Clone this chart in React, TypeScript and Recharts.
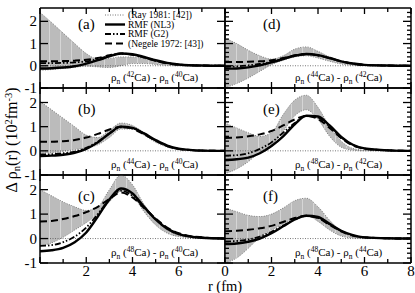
import { ComposedChart, Area, Line, XAxis, YAxis, ReferenceLine } from "recharts"

// radius grid (fm), shared by every panel
const R = [0, 0.5, 1, 1.5, 2, 2.5, 3, 3.5, 4, 4.5, 5, 5.5, 6, 7, 8]

// (a) 42Ca - 40Ca
const A_LO = [-0.2, -0.17, -0.12, -0.07, -0.02, -0.05, -0.08, 0, 0.1, 0.1, 0.06, 0.02, 0, 0, 0]
const A_HI = [2.4, 1.95, 1.47, 1.0, 0.55, 0.3, 0.33, 0.4, 0.4, 0.32, 0.2, 0.1, 0.04, 0, 0]
const A_NL3 = [-0.12, -0.11, -0.08, -0.02, 0.1, 0.25, 0.42, 0.55, 0.52, 0.4, 0.25, 0.13, 0.06, 0.01, 0]
const A_G2 = [0.12, 0.12, 0.13, 0.15, 0.2, 0.3, 0.45, 0.55, 0.5, 0.38, 0.23, 0.12, 0.05, 0.01, 0]
const A_NEG = [0.2, 0.2, 0.21, 0.23, 0.27, 0.35, 0.47, 0.55, 0.5, 0.37, 0.22, 0.11, 0.05, 0.01, 0]

// (b) 44Ca - 40Ca
const B_LO = [-0.1, -0.08, -0.02, 0.05, 0.12, 0.25, 0.55, 0.9, 0.9, 0.65, 0.35, 0.15, 0.05, 0, 0]
const B_HI = [2.05, 1.7, 1.35, 1.0, 0.65, 0.55, 0.85, 1.15, 1.05, 0.75, 0.45, 0.2, 0.08, 0.01, 0]
const B_NL3 = [-0.22, -0.2, -0.16, -0.08, 0.08, 0.35, 0.72, 1.0, 0.95, 0.72, 0.45, 0.22, 0.09, 0.01, 0]
const B_G2 = [-0.15, -0.14, -0.1, -0.03, 0.12, 0.38, 0.72, 0.97, 0.93, 0.7, 0.43, 0.21, 0.08, 0.01, 0]
const B_NEG = [0.38, 0.38, 0.4, 0.45, 0.55, 0.7, 0.88, 1.0, 0.92, 0.68, 0.42, 0.2, 0.08, 0.01, 0]

// (c) 48Ca - 40Ca
const C_LO = [-0.3, -0.18, 0.05, 0.35, 0.65, 1.0, 1.5, 1.95, 1.75, 1.1, 0.55, 0.22, 0.08, 0, 0]
const C_HI = [2.0, 1.75, 1.5, 1.3, 1.15, 1.3, 2.0, 2.6, 2.2, 1.4, 0.8, 0.35, 0.15, 0.02, 0]
const C_NL3 = [-0.52, -0.48, -0.38, -0.15, 0.25, 0.9, 1.6, 2.05, 1.85, 1.3, 0.78, 0.4, 0.18, 0.03, 0]
const C_G2 = [-0.3, -0.27, -0.15, 0.08, 0.45, 1.0, 1.6, 1.95, 1.75, 1.28, 0.8, 0.42, 0.2, 0.04, 0]
const C_NEG = [0.7, 0.72, 0.8, 0.92, 1.08, 1.3, 1.62, 1.88, 1.68, 1.25, 0.82, 0.45, 0.22, 0.05, 0]

// (d) 44Ca - 42Ca
const D_LO = [-1.0, -0.8, -0.55, -0.25, 0.05, 0.25, 0.4, 0.45, 0.35, 0.2, 0.08, 0.02, 0, 0, 0]
const D_HI = [1.25, 1.0, 0.7, 0.45, 0.3, 0.45, 0.75, 0.85, 0.65, 0.4, 0.2, 0.08, 0.03, 0, 0]
const D_NL3 = [-0.13, -0.12, -0.07, 0.02, 0.15, 0.3, 0.45, 0.53, 0.48, 0.35, 0.2, 0.1, 0.04, 0.01, 0]
const D_G2 = [-0.05, -0.03, 0.02, 0.08, 0.18, 0.32, 0.46, 0.52, 0.47, 0.34, 0.2, 0.1, 0.04, 0.01, 0]
const D_NEG = [0.17, 0.17, 0.18, 0.2, 0.25, 0.35, 0.47, 0.53, 0.47, 0.34, 0.2, 0.1, 0.04, 0.01, 0]

// (e) 48Ca - 42Ca
const E_LO = [-0.95, -0.75, -0.45, -0.05, 0.25, 0.8, 1.45, 1.7, 1.3, 0.6, 0.15, 0.03, 0, 0, 0]
const E_HI = [1.15, 0.95, 0.75, 0.6, 0.75, 1.5, 2.1, 2.3, 1.8, 1.0, 0.4, 0.1, 0.03, 0, 0]
const E_NL3 = [-0.38, -0.35, -0.28, -0.1, 0.2, 0.6, 1.1, 1.45, 1.42, 1.05, 0.58, 0.25, 0.1, 0.02, 0]
const E_G2 = [-0.2, -0.18, -0.1, 0.08, 0.35, 0.75, 1.15, 1.45, 1.38, 1.0, 0.55, 0.24, 0.09, 0.02, 0]
const E_NEG = [0.53, 0.55, 0.6, 0.68, 0.82, 1.05, 1.3, 1.45, 1.32, 0.95, 0.52, 0.22, 0.09, 0.02, 0]

// (f) 48Ca - 44Ca
const F_LO = [-1.0, -0.8, -0.4, 0.05, 0.35, 0.6, 0.85, 0.95, 0.7, 0.35, 0.1, 0.02, 0, 0, 0]
const F_HI = [1.25, 1.1, 0.95, 0.9, 1.0, 1.25, 1.55, 1.65, 1.3, 0.75, 0.3, 0.08, 0.02, 0, 0]
const F_NL3 = [-0.22, -0.2, -0.13, 0.0, 0.22, 0.5, 0.78, 0.93, 0.88, 0.6, 0.32, 0.14, 0.05, 0.01, 0]
const F_G2 = [-0.12, -0.1, -0.04, 0.08, 0.28, 0.53, 0.78, 0.92, 0.85, 0.58, 0.3, 0.13, 0.05, 0.01, 0]
const F_NEG = [0.3, 0.32, 0.36, 0.42, 0.52, 0.68, 0.84, 0.93, 0.84, 0.56, 0.29, 0.12, 0.05, 0.01, 0]

const X_TICKS = [0, 1, 2, 3, 4, 5, 6, 7, 8]
const Y_TICKS = [-1, 0, 1, 2]
const Y_TICKS_FINE = [-1, -0.8, -0.6, -0.4, -0.2, 0, 0.2, 0.4, 0.6, 0.8, 1, 1.2, 1.4, 1.6, 1.8, 2, 2.2, 2.4]
const X_LABELS_LEFT = [2, 4, 6]
const X_LABELS_RIGHT = [0, 2, 4, 6, 8]
const Y_LABELS = [-1, 0, 1, 2]

const LEGEND = ["(Ray 1981: [42])", "RMF (NL3)", "RMF (G2)", "(Negele 1972: [43])"]

const PANELS = [
  { tag: "(a)", col: 0, row: 0, a: "42", b: "40", lo: A_LO, hi: A_HI, nl3: A_NL3, g2: A_G2, neg: A_NEG },
  { tag: "(b)", col: 0, row: 1, a: "44", b: "40", lo: B_LO, hi: B_HI, nl3: B_NL3, g2: B_G2, neg: B_NEG },
  { tag: "(c)", col: 0, row: 2, a: "48", b: "40", lo: C_LO, hi: C_HI, nl3: C_NL3, g2: C_G2, neg: C_NEG },
  { tag: "(d)", col: 1, row: 0, a: "44", b: "42", lo: D_LO, hi: D_HI, nl3: D_NL3, g2: D_G2, neg: D_NEG },
  { tag: "(e)", col: 1, row: 1, a: "48", b: "42", lo: E_LO, hi: E_HI, nl3: E_NL3, g2: E_G2, neg: E_NEG },
  { tag: "(f)", col: 1, row: 2, a: "48", b: "44", lo: F_LO, hi: F_HI, nl3: F_NL3, g2: F_G2, neg: F_NEG },
]

const W = 415
const H = 293
const COLS = [{ left: 40, right: 225 }, { left: 225, right: 411 }]
const ROWS = [{ top: 8, bottom: 88 }, { top: 88, bottom: 175 }, { top: 175, bottom: 263 }]
const AX = 0.01 // axes need a non-zero size to be drawn
const Y_DOMAIN = [-1, 2.6]

const SERIF = '"Liberation Serif", "DejaVu Serif", serif'
const G2_DASH = "6 2 1.5 2 1.5 2"
const NEG_DASH = "7 4"

const onStep = (v: number, step: number) => Math.abs(v / step - Math.round(v / step)) < 1e-6

const XTick = ({ x, y, payload, dir, labels }: any) => {
  const v = payload.value
  const len = onStep(v, 2) ? 6 : 4
  return (
    <g>
      <line x1={x} y1={y} x2={x} y2={y + dir * len} stroke="#000" strokeWidth={1.3} />
      {labels && labels.includes(v) && (
        <text x={x} y={y + 13} textAnchor="middle" fontSize={15} fontFamily={SERIF} fill="#000">
          {v}
        </text>
      )}
    </g>
  )
}

const YTick = ({ x, y, payload, dir, labels }: any) => {
  const v = payload.value
  const len = onStep(v, 1) ? 8 : 4
  return (
    <g>
      <line x1={x} y1={y} x2={x + dir * len} y2={y} stroke="#000" strokeWidth={1.3} />
      {labels && labels.includes(v) && (
        <text x={x - 3} y={y + 5} textAnchor="end" fontSize={15} fontFamily={SERIF} fill="#000">
          {v}
        </text>
      )}
    </g>
  )
}

const frame = { stroke: "#000", strokeWidth: 1.5 }

function Panel({ p }: any) {
  const col = COLS[p.col]
  const row = ROWS[p.row]
  const data = R.map((r, i) => ({ r, band: [p.lo[i], p.hi[i]], nl3: p.nl3[i], g2: p.g2[i], neg: p.neg[i] }))
  const yTicks = p.col === 0 ? Y_TICKS : Y_TICKS_FINE
  const xLabels = p.row === 2 ? (p.col === 0 ? X_LABELS_LEFT : X_LABELS_RIGHT) : null
  const yLabels = p.col === 0 ? Y_LABELS : null

  return (
    <div style={{ position: "absolute", left: 0, top: 0 }}>
      <ComposedChart
        width={W}
        height={H}
        data={data}
        margin={{ top: row.top, bottom: H - row.bottom, left: col.left, right: W - col.right }}
      >
        <XAxis xAxisId="b" dataKey="r" type="number" domain={[0, 8]} ticks={X_TICKS} interval={0}
          height={AX} tickSize={0} tickMargin={0} tickLine={false} axisLine={frame} allowDataOverflow
          tick={(t: any) => <XTick {...t} dir={-1} labels={xLabels} />} />
        <XAxis xAxisId="t" orientation="top" dataKey="r" type="number" domain={[0, 8]} ticks={X_TICKS} interval={0}
          height={AX} tickSize={0} tickMargin={0} tickLine={false} axisLine={frame} allowDataOverflow
          tick={(t: any) => <XTick {...t} dir={1} labels={null} />} />
        <YAxis yAxisId="l" type="number" domain={Y_DOMAIN} ticks={yTicks} interval={0}
          width={AX} tickSize={0} tickMargin={0} tickLine={false} axisLine={frame} allowDataOverflow
          tick={(t: any) => <YTick {...t} dir={1} labels={yLabels} />} />
        <YAxis yAxisId="r" orientation="right" type="number" domain={Y_DOMAIN} ticks={yTicks} interval={0}
          width={AX} tickSize={0} tickMargin={0} tickLine={false} axisLine={frame} allowDataOverflow
          tick={(t: any) => <YTick {...t} dir={-1} labels={null} />} />

        <Area xAxisId="b" yAxisId="l" dataKey="band" type="monotone" fill="url(#ray-hatch)" fillOpacity={1}
          stroke="#666" strokeWidth={0.8} strokeDasharray="1 1.5" isAnimationActive={false} activeDot={false} />
        <ReferenceLine xAxisId="b" yAxisId="l" y={0} stroke="#555" strokeWidth={0.8} strokeDasharray="1 1.5" />
        <Line xAxisId="b" yAxisId="l" dataKey="neg" type="monotone" stroke="#000" strokeWidth={2}
          strokeDasharray={NEG_DASH} dot={false} activeDot={false} isAnimationActive={false} />
        <Line xAxisId="b" yAxisId="l" dataKey="g2" type="monotone" stroke="#000" strokeWidth={1.8}
          strokeDasharray={G2_DASH} dot={false} activeDot={false} isAnimationActive={false} />
        <Line xAxisId="b" yAxisId="l" dataKey="nl3" type="monotone" stroke="#000" strokeWidth={2.4}
          dot={false} activeDot={false} isAnimationActive={false} />
        <Line xAxisId="t" yAxisId="r" dataKey="nl3" stroke="none" dot={false} activeDot={false} isAnimationActive={false} />
      </ComposedChart>
    </div>
  )
}

function Annot({ x, y, a, b }: any) {
  return (
    <text x={x} y={y} fontSize={11} fontFamily={SERIF} fill="#000">
      ρ<tspan dy={3} fontSize={7.5}>n</tspan>
      <tspan dy={-3}> (</tspan>
      <tspan dy={-4} fontSize={7.5}>{a}</tspan>
      <tspan dy={4}>Ca) - ρ</tspan>
      <tspan dy={3} fontSize={7.5}>n</tspan>
      <tspan dy={-3}> (</tspan>
      <tspan dy={-4} fontSize={7.5}>{b}</tspan>
      <tspan dy={4}>Ca)</tspan>
    </text>
  )
}

export default function App() {
  const legendY = [15, 24.5, 34, 43.5]
  const legendStyles = [
    { stroke: "#666", strokeWidth: 0.9, strokeDasharray: "1 1.5" },
    { stroke: "#000", strokeWidth: 2.4 },
    { stroke: "#000", strokeWidth: 1.8, strokeDasharray: G2_DASH },
    { stroke: "#000", strokeWidth: 2, strokeDasharray: NEG_DASH },
  ]
  return (
    <div style={{ position: "absolute", left: 0, top: 0, width: W, height: H, background: "#fff" }}>
      <svg width={0} height={0} style={{ position: "absolute" }}>
        <defs>
          <pattern id="ray-hatch" patternUnits="userSpaceOnUse" width={11} height={6}>
            <rect width={11} height={6} fill="#bbbbbb" />
            <line x1={5.5} y1={0} x2={5.5} y2={6} stroke="#fff" strokeWidth={0.8} strokeOpacity={0.5} />
          </pattern>
        </defs>
      </svg>
      {PANELS.map((p) => (
        <Panel key={p.tag} p={p} />
      ))}
      <svg width={W} height={H} style={{ position: "absolute", left: 0, top: 0, pointerEvents: "none" }}>
        {PANELS.map((p) => {
          const col = COLS[p.col]
          const row = ROWS[p.row]
          return (
            <g key={p.tag}>
              <text x={col.left + 38} y={row.top + (p.row === 0 ? 21 : 26)} fontSize={15} fontFamily={SERIF} fill="#000">
                {p.tag}
              </text>
              <Annot x={col.left + (p.col === 0 ? 71 : 70)} y={row.bottom - 7} a={p.a} b={p.b} />
            </g>
          )
        })}
        {LEGEND.map((name, i) => (
          <g key={name}>
            <line x1={105} x2={125} y1={legendY[i]} y2={legendY[i]} {...legendStyles[i]} />
            <text x={128} y={legendY[i] + 3.2} fontSize={9.5} fontFamily={SERIF} fill="#000">
              {name}
            </text>
          </g>
        ))}
        <text transform="translate(17,140) rotate(-90)" textAnchor="middle" fontSize={16} fontFamily={SERIF} fill="#000">
          Δ ρ<tspan dy={3} fontSize={10.5}>n</tspan>
          <tspan dy={-3}>(r) (10</tspan>
          <tspan dy={-5} fontSize={10.5}>2</tspan>
          <tspan dy={5}>fm</tspan>
          <tspan dy={-5} fontSize={10.5}>-3</tspan>
          <tspan dy={5}>)</tspan>
        </text>
        <text x={225} y={291} textAnchor="middle" fontSize={14.5} fontFamily={SERIF} fill="#000">
          r (fm)
        </text>
      </svg>
    </div>
  )
}
